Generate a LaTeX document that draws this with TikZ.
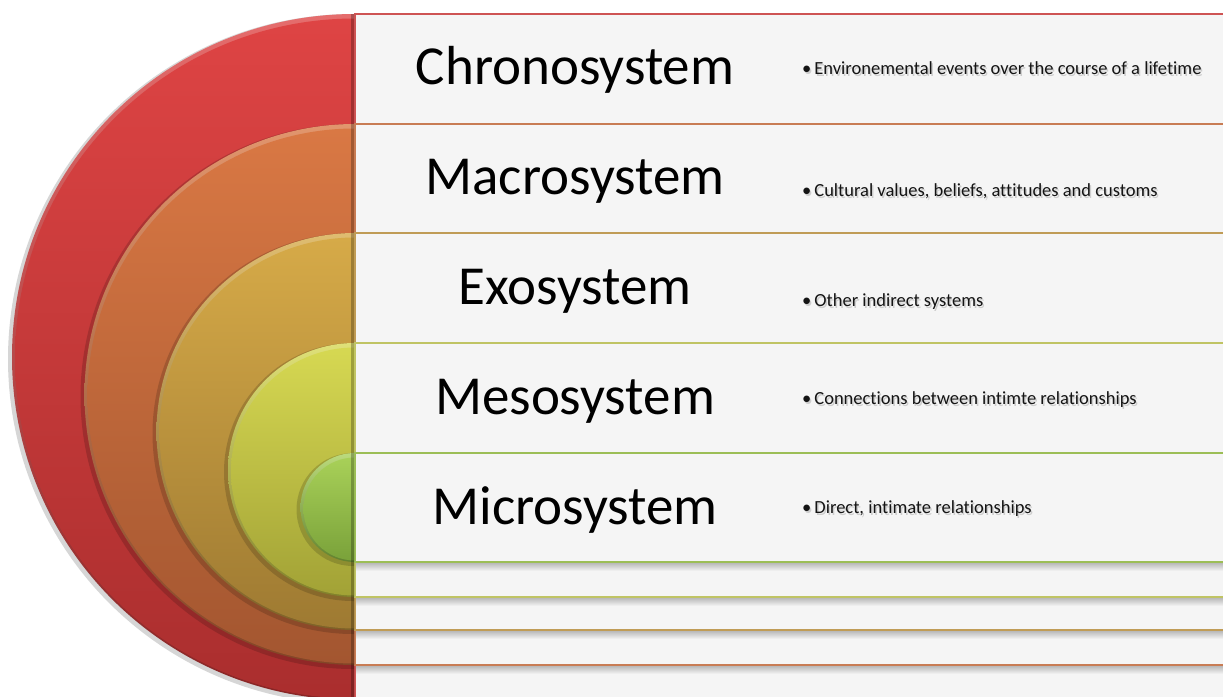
\documentclass[tikz,border=0pt]{standalone}
\usepackage{fontspec}
\setmainfont{Carlito}[Ligatures=NoCommon]
\definecolor{boxbg}{RGB}{245,245,245}
\definecolor{redA}{RGB}{222,68,68}\definecolor{redB}{RGB}{170,46,46}\definecolor{redL}{RGB}{206,84,84}
\definecolor{oraA}{RGB}{217,120,68}\definecolor{oraB}{RGB}{163,86,48}\definecolor{oraL}{RGB}{200,124,84}
\definecolor{golA}{RGB}{214,170,72}\definecolor{golB}{RGB}{158,122,50}\definecolor{golL}{RGB}{192,156,86}
\definecolor{yelA}{RGB}{214,216,82}\definecolor{yelB}{RGB}{162,162,54}\definecolor{yelL}{RGB}{192,196,100}
\definecolor{grnA}{RGB}{168,208,88}\definecolor{grnB}{RGB}{122,162,58}\definecolor{grnL}{RGB}{156,190,86}
\begin{document}
\begin{tikzpicture}[x=1pt,y=-1pt,
  title/.style={font=\fontsize{55}{60}\selectfont, anchor=base, inner sep=0pt, text=black},
  desc/.style={font=\fontsize{18.5}{22}\selectfont, anchor=base west, inner sep=0pt, text=black!92},
  descshadow/.style={font=\fontsize{18.5}{22}\selectfont, anchor=base west, inner sep=0pt, text=black, opacity=0.16}]
\useasboundingbox (0,0) rectangle (1223,696);
\clip (0,0) rectangle (1223,696);
\fill[white] (0,0) rectangle (1223,696);
\foreach \t/\b/\ca/\cb/\cl in {14/700/redA/redB/redL, 124/665/oraA/oraB/oraL, 233/630/golA/golB/golL, 343/597/yelA/yelB/yelL, 453/562/grnA/grnB/grnL}{
  \pgfmathsetmacro{\cy}{(\t+\b)/2}
  \pgfmathsetmacro{\r}{(\b-\t)/2}
  % shadow under the band's bottom edge
  \shade[top color=black!30, bottom color=boxbg] (356,\b) rectangle (1230,\b+9);
  % band
  \fill[boxbg] (355,\t) rectangle (1230,\b);
  \draw[\cl, line width=2pt] (1230,\t) -- (355,\t) -- (355,\b) -- (1230,\b);
  % half disc
  \begin{scope}
    \clip (0,0) rectangle (354,700);
    \fill[black, opacity=0.16] (353,\cy+2) circle[radius=\r+2];
    \shade[top color=\ca!78!white, bottom color=\cb!80!black] (355,\cy) circle[radius=\r];
    \shade[top color=\ca, bottom color=\cb] (355,\cy+1.5) circle[radius=\r-3];
    \fill[black, opacity=0.25] (351,\t) rectangle (354,\b);
  \end{scope}
}
% titles
\node[title] (chrono) at (575,84) {Chronosystem};
\node[title] (macro) at (575,194) {Macrosystem};
\node[title] (exo) at (575,304) {Exosystem};
\node[title] (meso) at (575,414) {Mesosystem};
\node[title] (micro) at (575,524) {Microsystem};
% descriptions
\node[descshadow] (chronoDs) at (803.5,76) {•\hspace{3pt}Environemental events over the course of a lifetime};
\node[desc] (chronoD) at (802,74) {•\hspace{3pt}Environemental events over the course of a lifetime};
\node[descshadow] (macroDs) at (803.5,198) {•\hspace{3pt}Cultural values, beliefs, attitudes and customs};
\node[desc] (macroD) at (802,196) {•\hspace{3pt}Cultural values, beliefs, attitudes and customs};
\node[descshadow] (exoDs) at (803.5,308) {•\hspace{3pt}Other indirect systems};
\node[desc] (exoD) at (802,306) {•\hspace{3pt}Other indirect systems};
\node[descshadow] (mesoDs) at (803.5,406) {•\hspace{3pt}Connections between intimte relationships};
\node[desc] (mesoD) at (802,404) {•\hspace{3pt}Connections between intimte relationships};
\node[descshadow] (microDs) at (803.5,515) {•\hspace{3pt}Direct, intimate relationships};
\node[desc] (microD) at (802,513) {•\hspace{3pt}Direct, intimate relationships};
\end{tikzpicture}
\end{document}
